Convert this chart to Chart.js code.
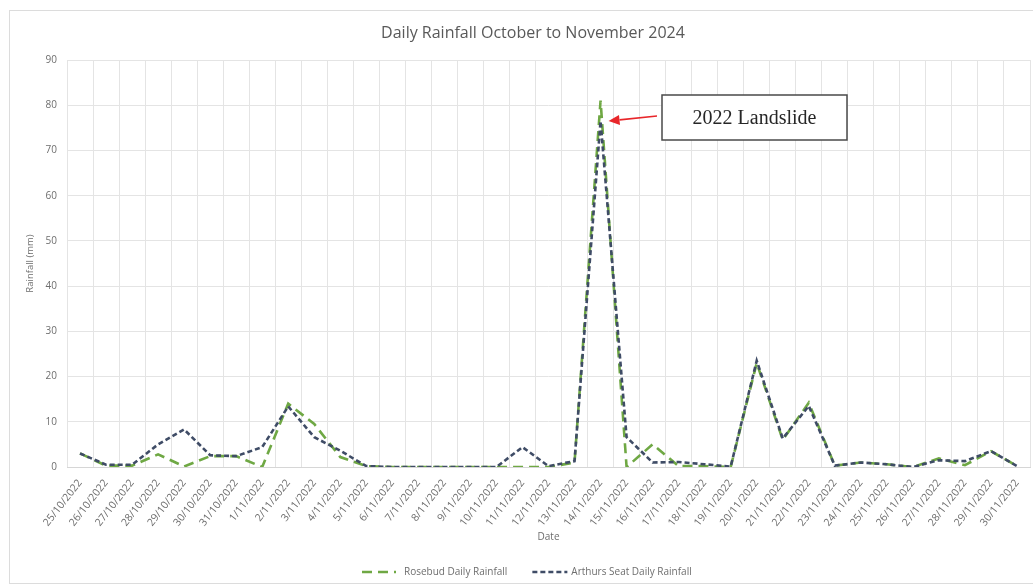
<!DOCTYPE html>
<html>
<head>
<meta charset="utf-8">
<title>Daily Rainfall October to November 2024</title>
<script src="https://cdn.jsdelivr.net/npm/chart.js@4.4.1/dist/chart.umd.min.js"></script>
<style>
  html, body { margin: 0; padding: 0; background: #ffffff; }
  #wrap { width: 1033px; height: 585px; position: relative; }
</style>
</head>
<body>
<div id="wrap"><canvas id="rain" width="1033" height="585"></canvas></div>
<script>
// Daily dates, 25 Oct to 30 Nov 2022
const dates = [
  '25/10/2022','26/10/2022','27/10/2022','28/10/2022','29/10/2022','30/10/2022','31/10/2022',
  '1/11/2022','2/11/2022','3/11/2022','4/11/2022','5/11/2022','6/11/2022','7/11/2022','8/11/2022',
  '9/11/2022','10/11/2022','11/11/2022','12/11/2022','13/11/2022','14/11/2022','15/11/2022',
  '16/11/2022','17/11/2022','18/11/2022','19/11/2022','20/11/2022','21/11/2022','22/11/2022',
  '23/11/2022','24/11/2022','25/11/2022','26/11/2022','27/11/2022','28/11/2022','29/11/2022','30/11/2022'
];

// Daily rainfall (mm) at Rosebud
const rosebudRain = [
  3.0, 0.3, 0.3, 2.8, 0.1, 2.4, 2.4,
  0.0, 14.0, 9.5, 2.2, 0.2, 0.0, 0.0, 0.0,
  0.0, 0.0, 0.0, 0.0, 1.0, 81.0, 0.0,
  5.0, 0.2, 0.2, 0.0, 23.0, 6.0, 14.2,
  0.3, 1.0, 0.6, 0.0, 1.9, 0.4, 3.5, 0.2
];

// Daily rainfall (mm) at Arthurs Seat
const arthursRain = [
  3.0, 0.5, 0.5, 5.0, 8.3, 2.6, 2.4,
  4.4, 13.4, 6.6, 3.6, 0.2, 0.0, 0.0, 0.0,
  0.0, 0.0, 4.4, 0.2, 1.3, 76.5, 6.6,
  1.0, 1.1, 0.6, 0.1, 23.5, 6.3, 13.5,
  0.3, 1.0, 0.6, 0.0, 1.5, 1.3, 3.5, 0.2
];

// Rainfall axis ticks
const rainTicks = [0, 10, 20, 30, 40, 50, 60, 70, 80, 90];

// Callout for the landslide day
const calloutDate = '14/11/2022';
const calloutText = '2022 Landslide';
const chartTitle = 'Daily Rainfall October to November 2024';

const GREY_TEXT = '#6e6e6e';
const GRID = '#e4e4e4';
const SANS = "'Open Sans', 'Liberation Sans', sans-serif";

// White background, outer frame and the chart title
const framePlugin = {
  id: 'frame',
  beforeDraw(chart) {
    const ctx = chart.ctx;
    ctx.save();
    ctx.fillStyle = '#ffffff';
    ctx.fillRect(0, 0, chart.width, chart.height);
    ctx.strokeStyle = '#dcdcdc';
    ctx.lineWidth = 1;
    ctx.strokeRect(9.5, 10.5, chart.width + 20, 573);
    ctx.fillStyle = '#595959';
    ctx.font = `16px ${SANS}`;
    ctx.textAlign = 'center';
    ctx.textBaseline = 'middle';
    ctx.fillText(chartTitle, 533, 33);
    ctx.restore();
  }
};

// Legend row under the axis, with dashed line samples
const legendPlugin = {
  id: 'dashLegend',
  afterDraw(chart) {
    const ctx = chart.ctx;
    const y = 572;
    let x = 362;
    ctx.save();
    ctx.font = `10px ${SANS}`;
    ctx.textAlign = 'left';
    ctx.textBaseline = 'middle';
    chart.data.datasets.forEach((ds, i) => {
      const sampleW = i === 0 ? 34 : 35;
      ctx.strokeStyle = ds.borderColor;
      ctx.lineWidth = ds.borderWidth;
      ctx.setLineDash(ds.borderDash);
      ctx.beginPath();
      ctx.moveTo(x, y);
      ctx.lineTo(x + sampleW, y);
      ctx.stroke();
      ctx.setLineDash([]);
      const tx = x + sampleW + (i === 0 ? 8 : 4);
      ctx.fillStyle = GREY_TEXT;
      ctx.fillText(ds.label, tx, y);
      x = tx + ctx.measureText(ds.label).width + 25;
    });
    ctx.restore();
  }
};

// Text box with a red arrow pointing at the landslide peak
const calloutPlugin = {
  id: 'callout',
  afterDatasetsDraw(chart) {
    const ctx = chart.ctx;
    const xs = chart.scales.x, ys = chart.scales.y;
    const idx = dates.indexOf(calloutDate);
    const tipX = xs.getPixelForValue(idx) + 8;
    const tipY = ys.getPixelForValue(arthursRain[idx]);

    const bx = 662, by = 95, bw = 185, bh = 45;
    ctx.save();
    ctx.fillStyle = '#ffffff';
    ctx.fillRect(bx, by, bw, bh);
    ctx.strokeStyle = '#4a4a4a';
    ctx.lineWidth = 1.5;
    ctx.strokeRect(bx, by, bw, bh);
    ctx.fillStyle = '#262626';
    ctx.font = "20px 'Liberation Serif', 'DejaVu Serif', serif";
    ctx.textAlign = 'center';
    ctx.textBaseline = 'middle';
    ctx.fillText(calloutText, bx + bw / 2, by + bh / 2 + 1);

    // arrow
    const sx = bx - 5, sy = by + 21;
    const ang = Math.atan2(tipY - sy, tipX - sx);
    const headLen = 11, headW = 5;
    const baseX = tipX - Math.cos(ang) * headLen;
    const baseY = tipY - Math.sin(ang) * headLen;
    ctx.strokeStyle = '#e8262a';
    ctx.fillStyle = '#e8262a';
    ctx.lineWidth = 1.6;
    ctx.beginPath();
    ctx.moveTo(sx, sy);
    ctx.lineTo(baseX, baseY);
    ctx.stroke();
    ctx.beginPath();
    ctx.moveTo(tipX, tipY);
    ctx.lineTo(baseX + Math.sin(ang) * headW, baseY - Math.cos(ang) * headW);
    ctx.lineTo(baseX - Math.sin(ang) * headW, baseY + Math.cos(ang) * headW);
    ctx.closePath();
    ctx.fill();
    ctx.restore();
  }
};

new Chart(document.getElementById('rain'), {
  type: 'line',
  data: {
    labels: dates,
    datasets: [
      {
        label: 'Rosebud Daily Rainfall',
        data: rosebudRain,
        borderColor: '#6fa844',
        backgroundColor: '#6fa844',
        borderWidth: 2.6,
        borderDash: [10, 6],
        pointRadius: 0,
        tension: 0,
        order: 2
      },
      {
        label: 'Arthurs Seat Daily Rainfall',
        data: arthursRain,
        borderColor: '#3f4c66',
        backgroundColor: '#3f4c66',
        borderWidth: 2.6,
        borderDash: [5, 3],
        pointRadius: 0,
        tension: 0,
        order: 1
      }
    ]
  },
  options: {
    responsive: false,
    animation: false,
    layout: { padding: { left: 0, right: 3, top: 60, bottom: 0 } },
    plugins: {
      title: { display: false },
      legend: { display: false },
      tooltip: { enabled: false }
    },
    scales: {
      x: {
        offset: true,
        grid: { offset: true, color: GRID, drawTicks: false },
        border: { color: '#d6d6d6' },
        ticks: {
          autoSkip: false,
          minRotation: 52,
          maxRotation: 52,
          padding: 10,
          color: GREY_TEXT,
          font: { family: SANS, size: 10.5 }
        },
        title: {
          display: true,
          text: 'Date',
          color: GREY_TEXT,
          font: { family: SANS, size: 10 },
          padding: { top: 0, bottom: 42 }
        },
        afterFit(scale) {
          scale.height = 585 - 467;
          scale.paddingLeft = 0;
          scale.paddingRight = 0;
        }
      },
      y: {
        min: 0,
        max: 90,
        afterBuildTicks(scale) { scale.ticks = rainTicks.map(v => ({ value: v })); },
        grid: { color: GRID, drawTicks: false },
        border: { display: false },
        ticks: {
          padding: 10,
          color: GREY_TEXT,
          font: { family: SANS, size: 10 }
        },
        title: {
          display: true,
          text: 'Rainfall (mm)',
          color: GREY_TEXT,
          font: { family: SANS, size: 9.5 },
          padding: { top: 24.3, bottom: 0 }
        },
        afterFit(scale) { scale.width = 67; }
      }
    }
  },
  plugins: [framePlugin, calloutPlugin, legendPlugin]
});
</script>
</body>
</html>
